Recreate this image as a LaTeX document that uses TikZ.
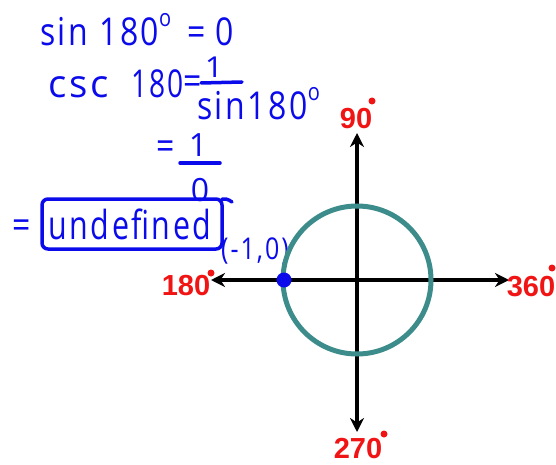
\documentclass[tikz,border=0pt]{standalone}
\usepackage{fontspec}
\usepackage{graphicx}
\setmainfont{Liberation Sans}
\newfontfamily\hand[LetterSpace=8]{Open Sans}
\usetikzlibrary{arrows.meta}
\definecolor{inkblue}{RGB}{10,10,235}
\definecolor{teal2}{RGB}{60,140,140}
\definecolor{lblred}{RGB}{240,20,20}
\newcommand\tall[1]{\scalebox{1}[1.2]{#1}}
\newcommand\degsup{\raisebox{0.5em}{\fontsize{20}{20}\selectfont o}}
\tikzset{
  ink/.style={text=inkblue, font=\hand\fontsize{32}{32}\selectfont, inner sep=0pt},
  inksmall/.style={text=inkblue, font=\hand\fontsize{25}{25}\selectfont, inner sep=0pt},
  inkline/.style={draw=inkblue, line width=3.5pt, line cap=round, line join=round},
  axis/.style={draw=black, line width=3.5pt, -{Stealth[length=14pt,width=14pt]}},
  deg/.style={text=lblred, font=\bfseries\fontsize{29}{29}\selectfont, inner sep=0pt},
  reddot/.style={fill=lblred, circle, inner sep=0pt, minimum size=7pt},
}
\begin{document}
\begin{tikzpicture}[x=1pt,y=-1pt]
\useasboundingbox (0,0) rectangle (556,465);
% handwriting
\node[ink, anchor=base west] (l1) at (40,46) {\tall{sin 180\degsup\hspace{16pt}=\hspace{10pt}0}};
\node[ink, anchor=base west] (l2a) at (48,98) {\scalebox{1.2}[1.2]{csc}};
\node[ink, anchor=base west] (l2b) at (131,98) {\scalebox{0.88}[1.2]{180}};
\node[ink, anchor=base west] (l2eq) at (183,95) {\tall{=}};
\node[ink, anchor=base] (l2n) at (214,78) {\scalebox{1}[0.9]{1}};
\node[ink, anchor=base west] (l2d) at (197,120) {\tall{sin180\degsup}};
\coordinate (f1a) at (201,83); \coordinate (f1b) at (242,82);
\draw[inkline] (f1a) -- (f1b);
\node[ink, anchor=base] (l3eq) at (166,160) {\tall{=}};
\node[ink, anchor=base] (l3n) at (198,157) {1};
\coordinate (f2a) at (180,163); \coordinate (f2b) at (220,163);
\draw[inkline] (f2a) -- (f2b);
\node[ink, anchor=base] (l3d) at (200,201) {0};
\node[ink, anchor=base] (l4eq) at (22,238) {\tall{=}};
\node[ink, anchor=base] (undef) at (130,239) {\scalebox{0.95}[1.25]{undefined}};
\coordinate (bx1) at (42,199); \coordinate (bx2) at (222,249);
\draw[inkline, rounded corners=6pt] (bx2) -- (42,249) -- (bx1) -- (222,199) -- cycle;
\coordinate (tailA) at (222,199);
\draw[inkline] (tailA) -- (226,199) to[out=0,in=160] (232,202);
\node[inksmall, anchor=base] (pt) at (255,259) {\tall{(-1,0)}};
% unit circle
\coordinate (O) at (357,280);
\coordinate (L) at (211,280); \coordinate (R) at (509,280);
\coordinate (T) at (357,133); \coordinate (B) at (357,432);
\draw[axis] (O) -- (L);
\draw[axis] (O) -- (R);
\draw[axis] (O) -- (T);
\draw[axis] (O) -- (B);
\draw[teal2, line width=5pt] (O) circle (74);
\node[fill=inkblue, circle, inner sep=0pt, minimum size=15pt] (P) at (284,280) {};
% labels
\node[deg, anchor=base] (d90) at (356,129) {90};
\node[reddot] (d90o) at (372,101) {};
\node[deg, anchor=base] (d180) at (186,295) {180};
\node[reddot] (d180o) at (211,273) {};
\node[deg, anchor=base] (d360) at (531,296) {360};
\node[reddot] (d360o) at (552,268) {};
\node[deg, anchor=base] (d270) at (358,458) {270};
\node[reddot] (d270o) at (384,434) {};
\end{tikzpicture}
\end{document}
